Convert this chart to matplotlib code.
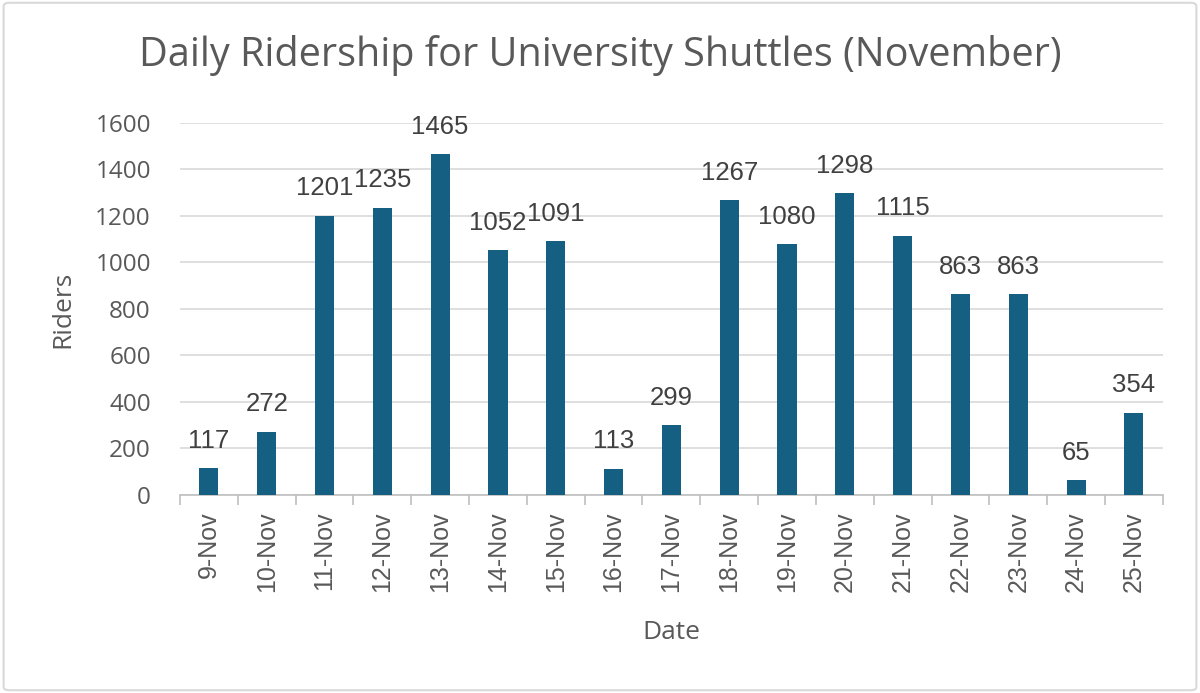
import matplotlib
matplotlib.use("Agg")
import matplotlib.pyplot as plt
from matplotlib.patches import FancyBboxPatch

dates = ["9-Nov", "10-Nov", "11-Nov", "12-Nov", "13-Nov", "14-Nov", "15-Nov", "16-Nov",
         "17-Nov", "18-Nov", "19-Nov", "20-Nov", "21-Nov", "22-Nov", "23-Nov", "24-Nov", "25-Nov"]
riders = [117, 272, 1201, 1235, 1465, 1052, 1091, 113, 299, 1267, 1080, 1298, 1115, 863, 863, 65, 354]
yticks = [0, 200, 400, 600, 800, 1000, 1200, 1400, 1600]

plt.rcParams['font.family'] = ['Open Sans', 'DejaVu Sans']
arial = ['Liberation Sans', 'DejaVu Sans']

fig = plt.figure(figsize=(12, 6.93), dpi=100)
ax = fig.add_axes([0.15, 0.2857, 0.819, 0.537])

x = list(range(len(dates)))
ax.bar(x, riders, width=0.33, color="#156082", zorder=3)
ax.set_xlim(-0.5, len(dates) - 0.5)
ax.set_ylim(0, 1600)
ax.set_yticks(yticks)
ax.set_yticklabels([str(v) for v in yticks], fontsize=17.5, color="#595959")
ax.set_xticks(x)
ax.set_xticklabels(dates, rotation=90, fontsize=18, color="#595959", family=arial)
ax.tick_params(axis='y', length=0, pad=21)
ax.tick_params(axis='x', length=0, pad=12)
ax.set_xticks([i - 0.5 for i in range(len(dates) + 1)], minor=True)
ax.tick_params(axis='x', which='minor', length=7, color="#bfbfbf", width=1.2)
ax.grid(axis='y', color="#d9d9d9", linewidth=1.2, zorder=0)
for s in ['top', 'right', 'left']:
    ax.spines[s].set_visible(False)
ax.spines['bottom'].set_color("#bfbfbf")
ax.spines['bottom'].set_linewidth(1.2)

for xi, v in zip(x, riders):
    ax.annotate(str(v), (xi, v), xytext=(0, 11), textcoords='offset points',
                ha='center', va='bottom', fontsize=18.5, color="#404040", family=arial)

ax.set_ylabel("Riders", fontsize=19, color="#595959", labelpad=14)
ax.set_xlabel("Date", fontsize=19, color="#595959", labelpad=20)
fig.text(0.5, 0.92, "Daily Ridership for University Shuttles (November)", fontsize=28.5,
         color="#595959", ha='center', va='center')

border = FancyBboxPatch((0.003, 0.004), 0.994, 0.992, boxstyle="round,pad=0,rounding_size=0.005",
                        transform=fig.transFigure, fill=False, edgecolor="#d9d9d9", linewidth=1.5)
fig.patches.append(border)

fig.savefig("out.png", dpi=100)
